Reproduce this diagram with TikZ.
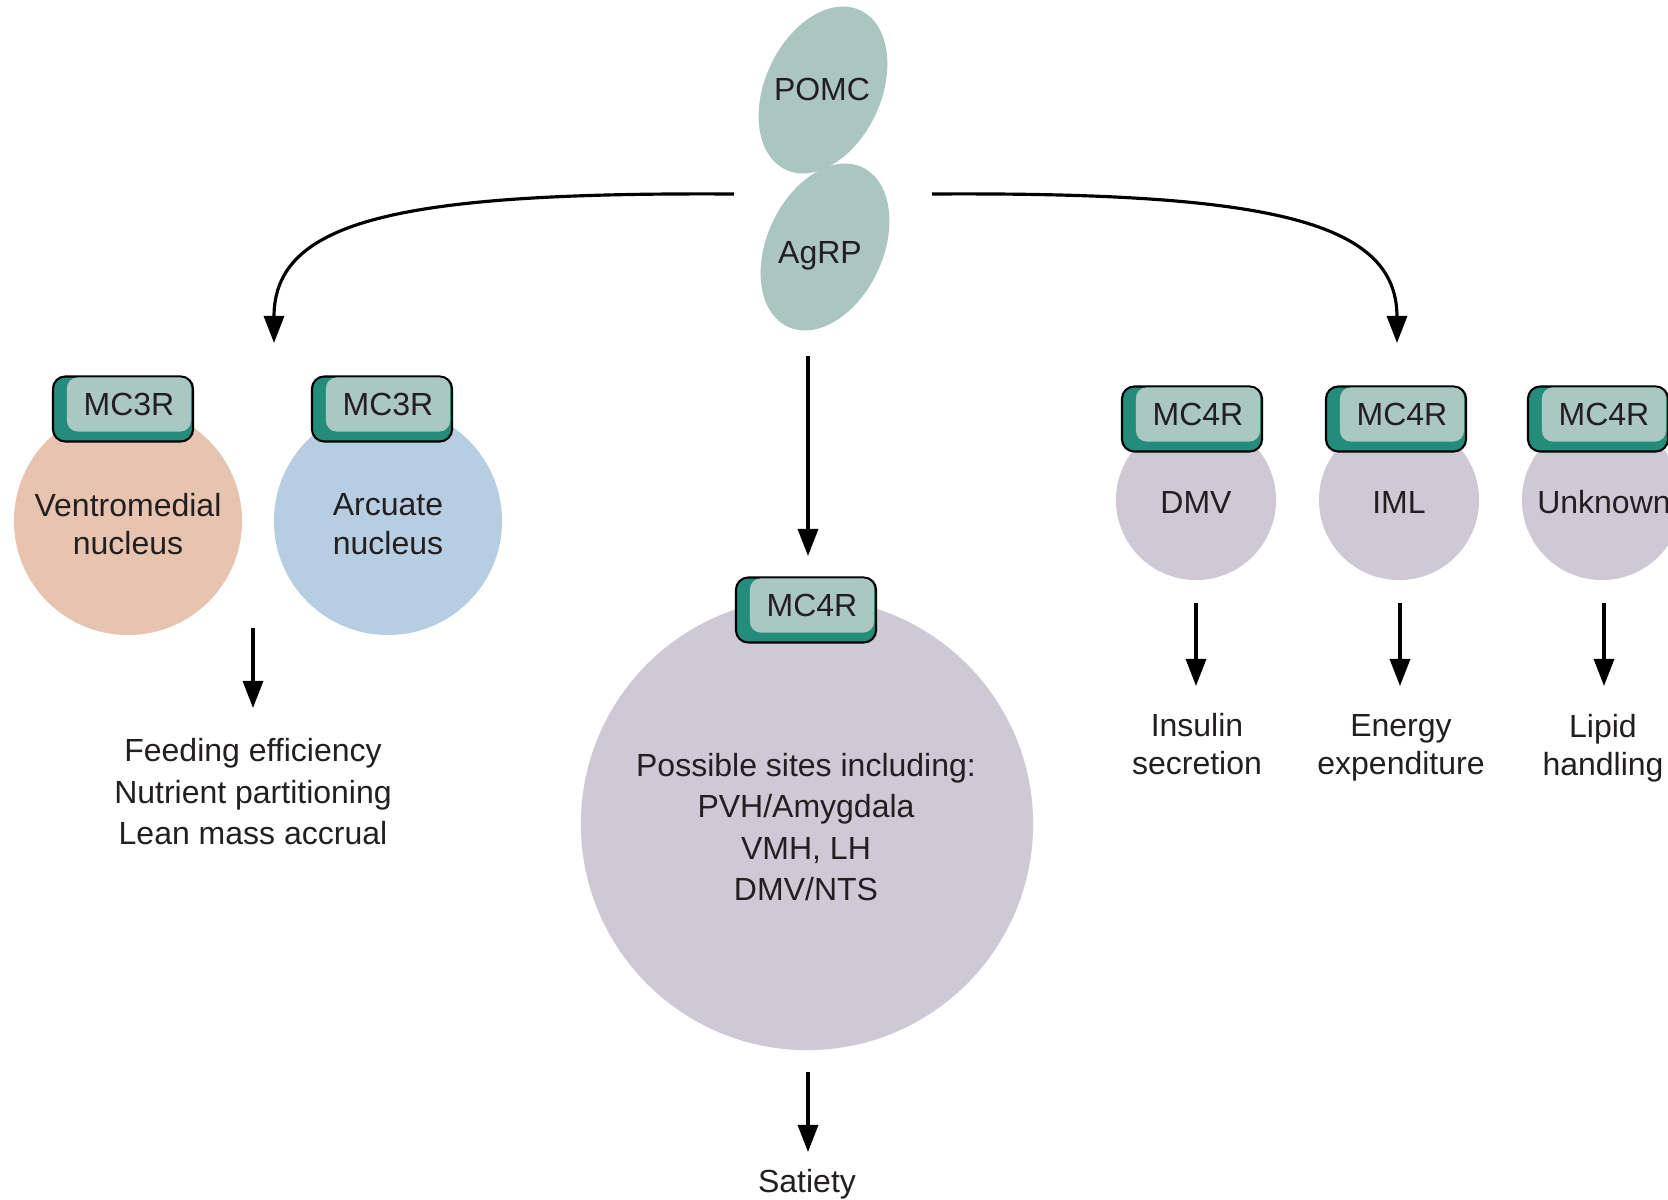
\documentclass[tikz,border=0pt]{standalone}
\usepackage{fontspec}
\setmainfont{Liberation Sans}
\usetikzlibrary{arrows.meta}

\definecolor{pomcc}{RGB}{171,197,193}
\definecolor{tealdark}{RGB}{36,140,122}
\definecolor{teallight}{RGB}{170,199,194}
\definecolor{ventro}{RGB}{231,196,176}
\definecolor{arcu}{RGB}{183,205,226}
\definecolor{lilac}{RGB}{207,200,213}
\definecolor{ink}{RGB}{35,31,32}

\tikzset{
txt/.style={align=center, inner sep=0pt, text=ink, font=\fontsize{9.1}{11.8}\selectfont},
txttwo/.style={txt, font=\fontsize{9.1}{10.9}\selectfont},
cell/.style={circle, inner sep=0pt, minimum size=#1},
recep/.style={draw=black, line width=0.6pt, fill=tealdark, rounded corners=3.5pt, minimum width=1.40cm, minimum height=0.65cm, inner sep=0pt},
recepin/.style={txt, fill=teallight, rounded corners=3pt, minimum width=1.24cm, minimum height=0.54cm},
arr/.style={line width=0.9pt, draw=black, -{Triangle[length=0.27cm, width=0.2cm]}}
}

\begin{document}
\begin{tikzpicture}[x=0.01cm, y=-0.01cm]

\useasboundingbox[fill=white] (0,0) rectangle (1668,1200);

% ligands
\fill[pomcc, rotate around={65:(823,90)}] (823,90) ellipse [x radius=88, y radius=58];
\fill[pomcc, rotate around={65:(825,247)}] (825,247) ellipse [x radius=88, y radius=58];
\node[txt] (pomc) at (822,89) {POMC};
\node[txt] (agrp) at (820,256) {AgRP};

% cells
\node[cell=2.28cm, fill=ventro] (vmn) at (128,521) {};
\node[cell=2.28cm, fill=arcu] (arc) at (388,521) {};
\node[cell=4.52cm, fill=lilac] (big) at (807,824) {};
\foreach \n/\x in {dmv/1196, iml/1399, unk/1602}
{
\node[cell=1.6cm, fill=lilac] (\n) at (\x,500) {};
}

% receptors
\foreach \n/\x/\y/\t in {ra/123/409/MC3R, rb/382/409/MC3R, rc/806/610/MC4R, rd/1192/419/MC4R, re/1396/419/MC4R, rf/1598/419/MC4R}
{
\node[recep] (\n) at (\x,\y) {};
\node[recepin, xshift=0.06cm, yshift=0.045cm] (\n t) at (\x,\y) {\t};
}

\node[txttwo] (vmnt) at (128,524) {Ventromedial\\nucleus};
\node[txttwo] (arct) at (388,524) {Arcuate\\nucleus};
\node[txt] (bigt) at (806,827) {Possible sites including:\\PVH/Amygdala\\VMH, LH\\DMV/NTS};
\node[txt] (dmvt) at (1196,502) {DMV};
\node[txt] (imlt) at (1399,502) {IML};
\node[txt] (unkt) at (1604,502) {Unknown};

% effects
\node[txt] (feed) at (253,792) {Feeding efficiency\\Nutrient partitioning\\Lean mass accrual};
\node[txt] (sat) at (807,1184) {Satiety};
\node[txttwo] (ins) at (1197,744) {Insulin\\secretion};
\node[txttwo] (ene) at (1401,748) {Energy\\expenditure};
\node[txttwo] (lip) at (1603,748) {Lipid\\handling};

% arrows
\coordinate (l0) at (734,194);
\coordinate (l1) at (274,343);
\coordinate (r0) at (932,194);
\coordinate (r1) at (1397,343);
\coordinate (m0) at (808,356);
\coordinate (m1) at (808,556);
\coordinate (f0) at (253,628);
\coordinate (f1) at (253,708);
\coordinate (s0) at (808,1072);
\coordinate (s1) at (808,1152);
\foreach \i/\x in {1/1196, 2/1400, 3/1604}
{
\coordinate (e\i) at (\x,603);
\coordinate (t\i) at (\x,686);
}

\draw[arr] (l0) .. controls (400,192) and (274,220) .. (l1);
\draw[arr] (r0) .. controls (1266,192) and (1397,220) .. (r1);
\draw[arr] (m0)--(m1);
\draw[arr] (f0)--(f1);
\draw[arr] (s0)--(s1);
\draw[arr] (e1)--(t1);
\draw[arr] (e2)--(t2);
\draw[arr] (e3)--(t3);
\end{tikzpicture}
\end{document}
